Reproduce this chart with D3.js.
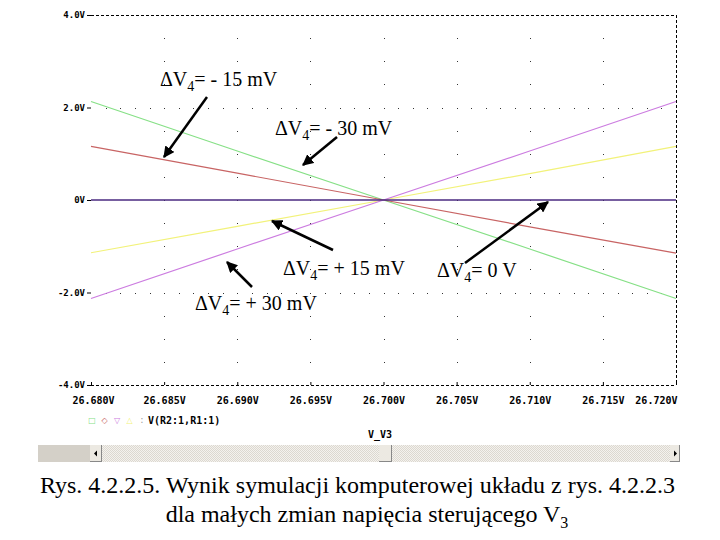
<!DOCTYPE html>
<html>
<head>
<meta charset="utf-8">
<script src="https://cdn.jsdelivr.net/npm/d3@7"></script>
<style>
  html, body { margin: 0; padding: 0; background: #fff; }
  svg { display: block; }
</style>
</head>
<body>
<svg id="chart" width="720" height="540"></svg>
<script>
// ---------- data ----------
const xDomain = [26.680, 26.720];
const yDomain = [-4, 4];
const xTicks = [26.680, 26.685, 26.690, 26.695, 26.700, 26.705, 26.710, 26.715, 26.720];
const xTickLabels = ["26.680V", "26.685V", "26.690V", "26.695V", "26.700V", "26.705V", "26.710V", "26.715V", "26.720V"];
const yTicks = [4, 2, 0, -2, -4];
const yTickLabels = ["4.0V", "2.0V", "0V", "-2.0V", "-4.0V"];
const sweepV3 = [26.680, 26.690, 26.700, 26.710, 26.720];
const dV4_minus30 = [2.13, 1.06, 0, -1.06, -2.13];
const dV4_minus15 = [1.16, 0.58, 0, -0.58, -1.15];
const dV4_plus15 = [-1.14, -0.57, 0, 0.57, 1.16];
const dV4_plus30 = [-2.13, -1.06, 0, 1.06, 2.13];
const dV4_zero = [0, 0, 0, 0, 0];
const seriesNames = ["-30", "-15", "+15", "+30", "0"];
const seriesColors = ["#86e086", "#c86464", "#f2f27a", "#cc7ce0", "#4a2a80"];
const legendLabel = "V(R2:1,R1:1)";
const xAxisTitle = "V_V3";
const annotations = [
  { pre: "ΔV", sub: "4", post: "= - 15 mV" },
  { pre: "ΔV", sub: "4", post: "= - 30 mV" },
  { pre: "ΔV", sub: "4", post: "= + 15 mV" },
  { pre: "ΔV", sub: "4", post: "= + 30 mV" },
  { pre: "ΔV", sub: "4", post: "= 0 V" }
];
const captionLine1 = "Rys. 4.2.2.5. Wynik symulacji komputerowej układu z rys. 4.2.2.3";
const captionLine2 = "dla małych zmian napięcia sterującego V";
const captionSub = "3";

// ---------- layout ----------
const svg = d3.select("#chart");
const pLeft = 91, pRight = 676, pTop = 15, pBottom = 385;
const x = d3.scaleLinear().domain(xDomain).range([pLeft, pRight]);
const y = d3.scaleLinear().domain(yDomain).range([pBottom, pTop]);
const monoFont = "'DejaVu Sans Mono', monospace";
const serif = "'Liberation Serif', 'Times New Roman', serif";

svg.append("rect").attr("width", 720).attr("height", 540).attr("fill", "#fff");
const defs = svg.append("defs");

// grid dots: vertical gridlines at inner x ticks, dots every 0.5 V
const g = svg.append("g");
const innerX = xTicks.slice(1, -1);
const yDotVals = d3.range(-8, 9).map(d => d * 0.5).filter(v => v > -4 && v < 4);
innerX.forEach(xv => {
  yDotVals.forEach(yv => {
    g.append("rect").attr("x", Math.round(x(xv))).attr("y", Math.round(y(yv)))
      .attr("width", 1).attr("height", 1).attr("fill", "#333");
  });
});
// horizontal gridlines at ±2 V, dots every 0.001 V
const xDotVals = d3.range(0, 41).map(i => 26.680 + i * 0.001).filter(v => v > 26.6805 && v < 26.7195);
[2, -2].forEach(yv => {
  xDotVals.forEach(xv => {
    g.append("rect").attr("x", Math.round(x(xv))).attr("y", Math.round(y(yv)))
      .attr("width", 1).attr("height", 1).attr("fill", "#333");
  });
});

// frame: dashed top, right, bottom
svg.append("line").attr("x1", pLeft).attr("x2", pRight).attr("y1", pTop + 0.5).attr("y2", pTop + 0.5)
  .attr("stroke", "#000").attr("stroke-dasharray", "3,2");
svg.append("line").attr("x1", pLeft).attr("x2", pRight).attr("y1", pBottom + 0.5).attr("y2", pBottom + 0.5)
  .attr("stroke", "#000").attr("stroke-dasharray", "3,2");
svg.append("line").attr("x1", pRight + 0.5).attr("x2", pRight + 0.5).attr("y1", pTop).attr("y2", pBottom)
  .attr("stroke", "#000").attr("stroke-dasharray", "3,2");

// y axis labels + ticks
const yAxis = d3.axisLeft(y).tickValues(yTicks).tickSize(4).tickPadding(2)
  .tickFormat((d, i) => yTickLabels[i]);
const ya = svg.append("g").attr("transform", `translate(${pLeft},0)`).call(yAxis);
ya.select(".domain").remove();
ya.selectAll(".tick line").attr("stroke", "#000");
ya.selectAll(".tick text").attr("font-family", monoFont).attr("font-weight", "bold")
  .attr("font-size", 9).attr("fill", "#000");

// x axis labels + ticks
const xAxis = d3.axisBottom(x).tickValues(xTicks).tickSize(3).tickPadding(9)
  .tickFormat((d, i) => xTickLabels[i]);
const xa = svg.append("g").attr("transform", `translate(0,${pBottom})`).call(xAxis);
xa.select(".domain").remove();
xa.selectAll(".tick line").attr("stroke", "#000").attr("y1", -3).attr("y2", 0);
xa.selectAll(".tick text").attr("font-family", monoFont).attr("font-weight", "bold")
  .attr("font-size", 10).attr("fill", "#000");
xa.selectAll(".tick").filter((d, i) => i === xTicks.length - 1).select("text")
  .attr("text-anchor", "end").attr("x", 1);
xa.selectAll(".tick").filter((d, i) => i === 0).select("text").attr("x", 2);

// traces
const allSeries = [dV4_minus30, dV4_minus15, dV4_plus15, dV4_plus30, dV4_zero];
const line = d3.line().x((d, i) => x(sweepV3[i])).y(d => y(d));
allSeries.forEach((s, k) => {
  svg.append("path").datum(s).attr("d", line).attr("fill", "none")
    .attr("stroke", seriesColors[k]).attr("stroke-width", k === 4 ? 1.5 : 1.2);
});

// legend
const legY = 423;
const legSyms = ["□", "◇", "▽", "△"];
const legCols = [seriesColors[0], seriesColors[1], seriesColors[3], seriesColors[2]];
legSyms.forEach((s, i) => {
  svg.append("text").attr("x", 92 + i * 12.5).attr("y", legY).attr("font-size", 8)
    .attr("font-family", "'DejaVu Sans'").attr("fill", legCols[i]).attr("text-anchor", "middle").text(s);
});
svg.append("text").attr("x", 142).attr("y", legY).attr("font-size", 8)
  .attr("font-family", monoFont).attr("fill", "#999").attr("text-anchor", "middle").text(":");
svg.append("text").attr("x", 148).attr("y", legY + 1).attr("font-family", monoFont)
  .attr("font-weight", "bold").attr("font-size", 10).attr("fill", "#000").text(legendLabel);

// x axis title
svg.append("text").attr("x", 380).attr("y", 438).attr("text-anchor", "middle")
  .attr("font-family", monoFont).attr("font-weight", "bold").attr("font-size", 10).text(xAxisTitle);

// scrollbar
const sb = svg.append("g");
const pat = defs.append("pattern").attr("id", "hatch").attr("width", 2).attr("height", 2)
  .attr("patternUnits", "userSpaceOnUse");
pat.append("rect").attr("width", 2).attr("height", 2).attr("fill", "#f4f2ee");
pat.append("rect").attr("width", 1).attr("height", 1).attr("fill", "#dcd8d0");
pat.append("rect").attr("x", 1).attr("y", 1).attr("width", 1).attr("height", 1).attr("fill", "#dcd8d0");
sb.append("rect").attr("x", 38).attr("y", 445).attr("width", 52).attr("height", 17).attr("fill", "#d4d0c8");
sb.append("rect").attr("x", 90).attr("y", 445).attr("width", 590).attr("height", 17).attr("fill", "url(#hatch)");
function button(bx, w) {
  sb.append("rect").attr("x", bx).attr("y", 445).attr("width", w).attr("height", 17).attr("fill", "#ece9e2");
  sb.append("line").attr("x1", bx + w - 0.5).attr("x2", bx + w - 0.5).attr("y1", 445).attr("y2", 462).attr("stroke", "#888");
  sb.append("line").attr("x1", bx).attr("x2", bx + w).attr("y1", 461.5).attr("y2", 461.5).attr("stroke", "#888");
}
button(90, 12);
button(379, 13);
button(670, 10);
sb.append("path").attr("d", "M94,453.5 L97,450.5 L97,456.5 Z").attr("fill", "#000");
sb.append("path").attr("d", "M677,453.5 L674,450.5 L674,456.5 Z").attr("fill", "#000");

// annotations
const annPos = [
  { x: 160, y: 86, ax1: 207, ay1: 97, ax2: 164, ay2: 157 },
  { x: 275, y: 135, ax1: 337, ay1: 137, ax2: 303, ay2: 165 },
  { x: 283, y: 275, ax1: 333, ay1: 250, ax2: 272, ay2: 221 },
  { x: 195, y: 310, ax1: 252, ay1: 287, ax2: 227, ay2: 262 },
  { x: 437, y: 277, ax1: 465, ay1: 263, ax2: 548, ay2: 202 }
];
defs.append("marker").attr("id", "arr").attr("viewBox", "0 0 10 10").attr("refX", 9).attr("refY", 5)
  .attr("markerWidth", 4.5).attr("markerHeight", 4.5).attr("orient", "auto")
  .append("path").attr("d", "M0,0 L10,5 L0,10 Z").attr("fill", "#000");
annotations.forEach((a, i) => {
  const p = annPos[i];
  svg.append("line").attr("x1", p.ax1).attr("y1", p.ay1).attr("x2", p.ax2).attr("y2", p.ay2)
    .attr("stroke", "#000").attr("stroke-width", 2.5).attr("marker-end", "url(#arr)");
  const t = svg.append("text").attr("x", p.x).attr("y", p.y).attr("font-family", serif)
    .attr("font-size", 20).attr("fill", "#000");
  t.append("tspan").text(a.pre);
  t.append("tspan").attr("dy", 5).attr("font-size", 14).text(a.sub);
  t.append("tspan").attr("dy", -5).text(a.post);
});

// caption
svg.append("text").attr("x", 357.5).attr("y", 493).attr("text-anchor", "middle")
  .attr("font-family", serif).attr("font-size", 24).text(captionLine1);
const c2 = svg.append("text").attr("x", 367).attr("y", 522).attr("text-anchor", "middle")
  .attr("font-family", serif).attr("font-size", 24);
c2.append("tspan").text(captionLine2);
c2.append("tspan").attr("dy", 6).attr("font-size", 16).text(captionSub);
</script>
</body>
</html>
